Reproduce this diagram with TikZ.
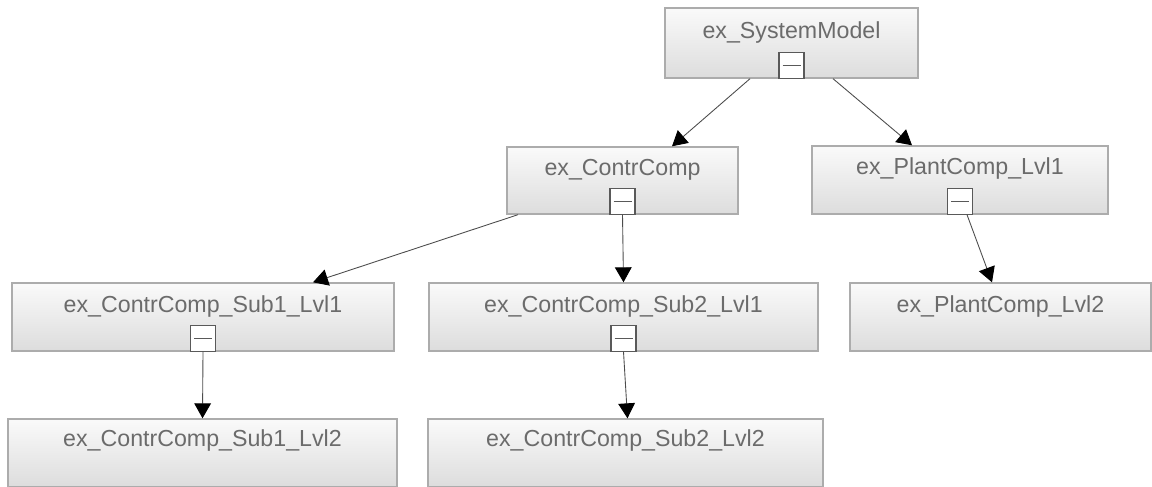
\documentclass[tikz,border=0pt]{standalone}
\usepackage{fontspec}
\setmainfont{Liberation Sans}
\usetikzlibrary{positioning, arrows.meta, calc, shapes.geometric}

\begin{document}
\begin{tikzpicture}[
  font=\fontsize{13.2}{15}\selectfont,
  % block styles
  block/.style={draw=gray!65, line width=0.8pt, rectangle, top color=gray!4, bottom color=gray!27, minimum height=1.36cm, inner sep=0pt},
  blocktext/.style={anchor=base, text=black!58, inner sep=0pt},
  toggle/.style={draw=gray!70!black, line width=0.6pt, fill=white, rectangle, minimum width=0.5cm, minimum height=0.52cm, inner sep=0pt, anchor=south,
    path picture={\draw[gray!70!black, line width=0.6pt] ([xshift=0.07cm]path picture bounding box.west) -- ([xshift=-0.07cm]path picture bounding box.east);}},
  % connector style
  line/.style={draw=gray!60!black, line width=0.5pt, -{Triangle[color=black, width=9.5pt, length=8.5pt]}}
]
  \useasboundingbox (0,0) rectangle (23.04,-9.74);

  % ==========================================
  % LEVEL 0: SYSTEM MODEL
  % ==========================================
  \node[block, minimum width=5.06cm, minimum height=1.40cm] (sys) at (15.83,-0.86) {};
  \node[blocktext] (sys-txt) at ([yshift=-0.62cm]sys.north) {ex\_SystemModel};
  \node[toggle] (sys-tg) at (sys.south) {};

  % ==========================================
  % LEVEL 1: CONTROLLER AND PLANT
  % ==========================================
  \node[block, minimum width=4.62cm, minimum height=1.34cm] (contr) at (12.45,-3.61) {};
  \node[blocktext] (contr-txt) at ([yshift=-0.58cm]contr.north) {ex\_ContrComp};
  \node[toggle] (contr-tg) at (contr.south) {};

  \node[block, minimum width=5.92cm] (plant1) at (19.20,-3.60) {};
  \node[blocktext] (plant1-txt) at ([yshift=-0.58cm]plant1.north) {ex\_PlantComp\_Lvl1};
  \node[toggle] (plant1-tg) at (plant1.south) {};

  \draw[line] ([xshift=-0.83cm]sys.south) -- ([xshift=0.99cm]contr.north);
  \draw[line] ([xshift=0.83cm]sys.south) -- ([xshift=-0.96cm]plant1.north);

  % ==========================================
  % LEVEL 2: SUBCOMPONENTS
  % ==========================================
  \node[block, minimum width=7.64cm] (sub1a) at (4.06,-6.34) {};
  \node[blocktext] (sub1a-txt) at ([yshift=-0.6cm]sub1a.north) {ex\_ContrComp\_Sub1\_Lvl1};
  \node[toggle] (sub1a-tg) at (sub1a.south) {};

  \node[block, minimum width=7.78cm] (sub2a) at (12.47,-6.34) {};
  \node[blocktext] (sub2a-txt) at ([yshift=-0.6cm]sub2a.north) {ex\_ContrComp\_Sub2\_Lvl1};
  \node[toggle] (sub2a-tg) at (sub2a.south) {};

  \node[block, minimum width=6.02cm] (plant2) at (20.01,-6.34) {};
  \node[blocktext] (plant2-txt) at ([yshift=-0.6cm]plant2.north) {ex\_PlantComp\_Lvl2};

  \draw[line] ([xshift=-2.09cm]contr.south) -- ([xshift=2.2cm]sub1a.north);
  \draw[line] (contr-tg.south) -- (sub2a.north);
  \draw[line] ([xshift=0.14cm]plant1-tg.south) -- ([xshift=-0.17cm]plant2.north);

  % ==========================================
  % LEVEL 3: LEAVES
  % ==========================================
  \node[block, minimum width=7.78cm] (sub1b) at (4.05,-9.06) {};
  \node[blocktext] (sub1b-txt) at ([yshift=-0.56cm]sub1b.north) {ex\_ContrComp\_Sub1\_Lvl2};

  \node[block, minimum width=7.90cm] (sub2b) at (12.51,-9.06) {};
  \node[blocktext] (sub2b-txt) at ([yshift=-0.56cm]sub2b.north) {ex\_ContrComp\_Sub2\_Lvl2};

  \draw[line] (sub1a-tg.south) -- (sub1b.north);
  \draw[line] (sub2a-tg.south) -- ([xshift=0.04cm]sub2b.north);

\end{tikzpicture}
\end{document}
